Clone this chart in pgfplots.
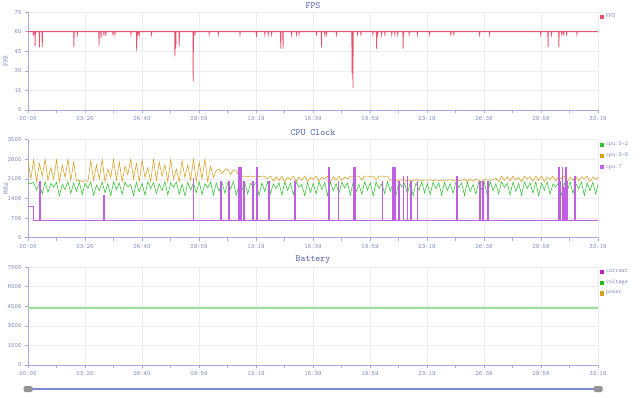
\documentclass[border=0pt]{standalone}
\usepackage{fontspec}
\usepackage{pgfplots}
\usepackage{pgfplotstable}
\pgfplotsset{compat=1.18}
\renewcommand{\familydefault}{\ttdefault}
\definecolor{txt}{HTML}{7A86B8}
\definecolor{ttl}{HTML}{4B5AA0}
\definecolor{axl}{HTML}{A3ABD6}
\definecolor{grd}{HTML}{ECECF4}
\definecolor{fpsred}{HTML}{E8506C}
\definecolor{cpugreen}{HTML}{33C233}
\definecolor{cpugold}{HTML}{D4A020}
\definecolor{cpuviol}{HTML}{C060E0}
\definecolor{curmag}{HTML}{C020C0}
\definecolor{voltgreen}{HTML}{22BB22}
\definecolor{voltline}{HTML}{9CE09C}
\definecolor{powgold}{HTML}{D4A020}
\definecolor{slider}{HTML}{7B8AD8}

\pgfplotstableread{
t g o
0 1990 2750
10 1920 2100
20 1980 2800
30 1700 2000
40 1950 2650
50 1560 2200
60 2000 2800
70 1620 2050
80 1940 2500
90 1800 2100
100 1980 2780
110 1500 2000
120 1900 2600
130 1720 2150
140 2000 2800
150 1580 2050
160 1960 2700
170 1650 2020
180 1990 2050
190 1540 2000
200 1950 2040
210 1760 2010
220 2000 2750
230 1520 2050
240 1880 2600
250 1690 2100
260 1990 2800
270 1600 2000
280 1930 2450
290 1500 2150
300 2000 2800
310 1710 2050
320 1960 2700
330 1550 2000
340 1990 2550
350 1820 2250
360 1900 2800
370 1510 2100
380 1980 2650
390 1640 2000
400 1940 2780
410 1520 2150
420 2000 2500
430 1750 2000
440 1970 2800
450 1580 2050
460 1920 2700
470 1680 2200
480 2000 2600
490 1530 2000
500 1960 2800
510 1800 2100
520 1990 2450
530 1560 2000
540 1910 2750
550 1500 2150
560 1980 2600
570 1700 2050
580 1950 2800
590 1610 2000
600 2000 2700
610 1540 2100
620 1930 2800
630 1780 2000
640 1990 2550
650 1520 2150
660 1960 2400
670 1660 2450
680 1990 2300
690 1590 2420
700 1950 2450
710 1740 2250
720 2000 2430
730 1510 2380
740 1900 2200
750 1700 2190
760 1980 2200
770 1560 2180
780 1940 2200
790 1830 2190
800 1990 2200
810 1500 2180
820 1960 2200
830 1650 2190
840 2000 2100
850 1580 2200
860 1920 2020
870 1760 2180
880 1970 2050
890 1520 2200
900 2000 2000
910 1690 2150
920 1950 2080
930 1540 2200
940 1990 2020
950 1800 2170
960 1900 2050
970 1500 2200
980 1980 2000
990 1620 2150
1000 1940 2080
1010 1560 2200
1020 2000 2020
1030 1720 2160
1040 1960 2100
1050 1510 2200
1060 1990 2000
1070 1680 2180
1080 1930 2060
1090 1590 2200
1100 1980 2040
1110 1780 2170
1120 1950 2100
1130 1520 2200
1140 2000 2190
1150 1640 2200
1160 1910 2200
1170 1550 2060
1180 1990 2200
1190 1700 2200
1200 1960 2190
1210 1500 2200
1220 1990 2080
1230 1760 2200
1240 1920 2200
1250 1580 2190
1260 2000 2200
1270 1660 2050
1280 1950 2060
1290 1530 2040
1300 1990 2050
1310 1810 2070
1320 1940 2030
1330 1560 2060
1340 1980 2050
1350 1500 2040
1360 1960 2080
1370 1700 2050
1380 2000 2030
1390 1600 2060
1400 1930 2050
1410 1540 2070
1420 1990 2040
1430 1750 2060
1440 1960 2050
1450 1520 2030
1460 1980 2060
1470 1680 2050
1480 1940 2070
1490 1580 2040
1500 2000 2060
1510 1790 2050
1520 1950 2030
1530 1510 2100
1540 1990 2000
1550 1640 2080
1560 1900 2020
1570 1560 2100
1580 1980 2050
1590 1720 2000
1600 1960 2080
1610 1500 2060
1620 2000 2050
1630 1690 2070
1640 1930 2120
1650 1570 2000
1660 1990 2200
1670 1800 2050
1680 1950 2180
1690 1530 2020
1700 1990 2200
1710 1660 2060
1720 1940 2150
1730 1520 2000
1740 1980 2200
1750 1760 2100
1760 1960 2180
1770 1590 2020
1780 2000 2200
1790 1500 2050
1800 1950 2200
1810 1700 2000
1820 1990 2170
1830 1550 2080
1840 1920 2200
1850 1810 2030
1860 1980 2190
1870 1520 2100
1880 1960 2200
1890 1650 2000
1900 2000 2160
1910 1580 2050
1920 1940 2200
1930 1740 2020
1940 1990 2180
1950 1510 2100
1960 1960 2200
1970 1680 2000
1980 1980 2170
1990 1560 2080
1998 1900 2150
}\cpudata

\pgfplotstableread{
t v
0 1100
18 1100
18 600
41 600
41 2000
43 2000
43 600
265 600
265 1500
267 1500
267 600
579 600
579 2100
581 2100
581 600
676 600
676 2000
678 2000
678 600
704 600
704 2000
706 2000
706 600
739 600
739 2500
741 2500
741 600
746 600
746 2500
748 2500
748 600
757 600
757 2000
759 2000
759 600
787 600
787 2000
789 2000
789 600
801 600
801 2500
803 2500
803 600
843 600
843 2000
845 2000
845 600
934 600
934 2000
936 2000
936 600
1055 600
1055 2500
1057 2500
1057 600
1087 600
1087 2000
1089 2000
1089 600
1140 600
1140 2500
1142 2500
1142 600
1146 600
1146 2500
1148 2500
1148 600
1241 600
1241 2000
1243 2000
1243 600
1278 600
1278 2500
1280 2500
1280 600
1286 600
1286 2500
1288 2500
1288 600
1300 600
1300 2000
1302 2000
1302 600
1315 600
1315 2200
1317 2200
1317 600
1329 600
1329 2200
1331 2200
1331 600
1342 600
1342 2000
1344 2000
1344 600
1364 600
1364 2000
1366 2000
1366 600
1502 600
1502 2200
1504 2200
1504 600
1583 600
1583 2000
1585 2000
1585 600
1594 600
1594 2000
1596 2000
1596 600
1612 600
1612 2000
1614 2000
1614 600
1860 600
1860 2500
1862 2500
1862 600
1866 600
1866 2000
1868 2000
1868 600
1872 600
1872 2500
1874 2500
1874 600
1878 600
1878 1800
1880 1800
1880 600
1884 600
1884 2500
1886 2500
1886 600
1890 600
1890 2000
1892 2000
1892 600
1916 600
1916 2200
1918 2200
1918 600
1998 600
}\violetdata

\pgfplotsset{
  myaxis/.style={
    scale only axis, width=570pt, height=98pt, anchor=south west,
    xmin=0, xmax=1998,
    xtick={0,199.8,399.6,599.4,799.2,999,1198.8,1398.6,1598.4,1798.2,1998},
    xticklabels={00:00,03:20,06:40,09:59,13:19,16:39,19:59,23:19,26:38,29:58,33:18},
    minor x tick num=1,
    axis x line*=bottom, axis y line*=left,
    axis line style={axl, line width=0.6pt, -},
    every tick/.style={axl, line width=0.5pt},
    tick align=outside,
    major tick length=3pt, minor tick length=3pt,
    xmajorgrids, ymajorgrids, major grid style={grd, line width=0.5pt},
    ticklabel style={font=\fontsize{6.5}{7}\selectfont, text=txt},
    /pgf/number format/assume math mode=true,
    /pgf/number format/1000 sep={},
    scaled y ticks=false,
    title style={font=\fontsize{9.5}{10}\selectfont, text=ttl, inner sep=1pt, yshift=-3.5pt},
    ylabel style={font=\fontsize{7}{8}\selectfont, text=txt, at={(axis description cs:-0.039,0.5)}, anchor=center},
    legend style={at={(axis description cs:1,1)}, anchor=north west, xshift=2pt, draw=none, fill=none, font=\fontsize{6}{7}\selectfont, text=txt, inner sep=0pt, row sep=2pt},
    legend cell align=left,
    legend image code/.code={\fill[##1] (0pt,-1.6pt) rectangle (3.2pt,1.6pt);},
  }
}

\begin{document}
\begin{tikzpicture}
\useasboundingbox (0pt,0pt) rectangle (640pt,397pt);

% FPS
\begin{axis}[myaxis, at={(28pt,287pt)}, ymin=0, ymax=75, ytick={0,15,30,45,60,75}, title={FPS}, ylabel={FPS}]
\addlegendimage{fpsred}
\addplot[fpsred, line width=0.8pt, forget plot] coordinates {
(0,60) (18,60)(19,57)(20,60) (24,60)(25,49)(26,60) (39,60)(40,48)(41,60) (49,60)(50,48)(51,60) (160,60)(161,48)(162,60) (172,60)(173,58)(174,60) (248,60)(249,49)(250,60) (255,60)(256,55)(257,60) (265,60)(266,57)(267,60) (272,60)(273,57)(274,60) (297,60)(298,57)(299,60) (304,60)(305,58)(306,60) (360,60)(361,58)(362,60) (380,60)(381,45)(382,60) (384,60)(385,57)(386,60) (389,60)(390,58)(391,60) (432,60)(433,58)(434,60) (514,60)(515,41)(516,60) (517,60)(518,47)(519,60) (529,60)(530,49)(531,60) (578,60)(579,22)(580,60) (584,60)(585,57)(586,60) (634,60)(635,58)(636,60) (666,60)(667,58)(668,60) (742,60)(743,58)(744,60) (800,60)(801,56)(802,60) (829,60)(830,58)(831,60) (841,60)(842,58)(843,60) (853,60)(854,58)(855,60) (885,60)(886,47)(887,60) (893,60)(894,47)(895,60) (923,60)(924,58)(925,60) (940,60)(941,58)(942,60) (949,60)(950,58)(951,60) (1010,60)(1011,57)(1012,60) (1028,60)(1029,48)(1030,60) (1039,60)(1040,58)(1041,60) (1045,60)(1046,58)(1047,60) (1080,60)(1081,58)(1082,60) (1135,60)(1136,28)(1137,60)(1138,60)(1139,17)(1140,60) (1154,60)(1155,57)(1156,60) (1166,60)(1167,57)(1168,60) (1208,60)(1209,58)(1210,60) (1221,60)(1222,47)(1223,60) (1225,60)(1226,58)(1227,60) (1238,60)(1239,58)(1240,60) (1250,60)(1251,57)(1252,60) (1274,60)(1275,58)(1276,60) (1285,60)(1286,58)(1287,60) (1295,60)(1296,58)(1297,60) (1314,60)(1315,47)(1316,60) (1335,60)(1336,57)(1337,60) (1364,60)(1365,58)(1366,60) (1407,60)(1408,58)(1409,60) (1481,60)(1482,57)(1483,60) (1492,60)(1493,57)(1494,60) (1582,60)(1583,58)(1584,60) (1617,60)(1618,58)(1619,60) (1796,60)(1797,58)(1798,60) (1822,60)(1823,48)(1824,60) (1834,60)(1835,58)(1836,60) (1860,60)(1861,48)(1862,60) (1870,60)(1871,57)(1872,60) (1877,60)(1878,57)(1879,60) (1887,60)(1888,57)(1889,60) (1923,60)(1924,58)(1925,60) (1998,60)
};
\legend{FPS}
\end{axis}

% CPU Clock
\begin{axis}[myaxis, at={(28pt,159.3pt)}, ymin=0, ymax=3500, ytick={0,700,1400,2100,2800,3500}, title={CPU Clock}, ylabel={MHz}]
\addlegendimage{cpugreen}
\addlegendimage{cpugold}
\addlegendimage{cpuviol}
\addplot[color=cpugreen, line width=0.55pt, forget plot] table[x=t, y=g] {\cpudata};
\addplot[color=cpugold, line width=0.55pt, forget plot] table[x=t, y=o] {\cpudata};
\addplot[color=cpuviol, line width=1pt, forget plot] table[x=t, y=v] {\violetdata};
\legend{cpu:0-2, cpu:3-6, cpu:7}
\end{axis}

% Battery
\begin{axis}[myaxis, at={(28pt,32pt)}, ymin=0, ymax=7500, ytick={0,1500,3000,4500,6000,7500}, title={Battery}]
\addlegendimage{curmag}
\addlegendimage{voltgreen}
\addlegendimage{powgold}
\addplot[voltline, line width=2pt, forget plot] coordinates {(0,4400) (1998,4400)};
\legend{current, voltage, power}
\end{axis}

% slider
\draw[slider, line width=1.6pt] (28pt,8pt) -- (598pt,8pt);
\fill[gray!85, rounded corners=1.5pt] (23.5pt,5pt) rectangle (32.5pt,11pt);
\fill[gray!85, rounded corners=1.5pt] (593.5pt,5pt) rectangle (602.5pt,11pt);
\end{tikzpicture}
\end{document}
